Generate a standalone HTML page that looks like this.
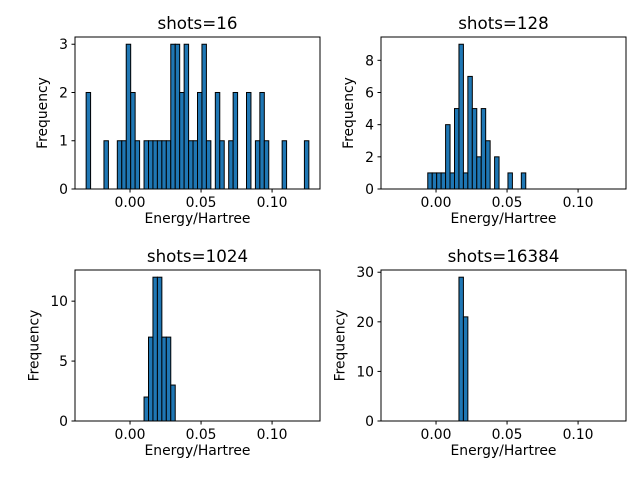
<!DOCTYPE html>
<html><head><meta charset="utf-8"><style>
body{margin:0;background:#fff;}
svg text{font-family:"DejaVu Sans","Liberation Sans",sans-serif;fill:#000;}
</style></head><body>
<svg id="fig" width="640" height="480" xmlns="http://www.w3.org/2000/svg"></svg>
<script>
const binCount = 50;
const dataMin = -0.0309, dataMax = 0.1259;
const xTicks = [0.00, 0.05, 0.10];
const xTickLabels = ["0.00", "0.05", "0.10"];
const titles = ["shots=16", "shots=128", "shots=1024", "shots=16384"];
const counts16 = [2,0,0,0,1,0,0,1,1,3,2,1,0,1,1,1,1,1,1,3,3,2,3,1,1,2,3,1,0,2,1,0,1,2,0,0,2,0,1,2,1,0,0,0,1,0,0,0,0,1];
const counts128 = [0,0,0,0,0,0,0,0,1,1,1,1,4,1,5,9,1,7,5,2,5,3,0,2,0,0,1,0,0,1,0,0,0,0,0,0,0,0,0,0,0,0,0,0,0,0,0,0,0,0];
const counts1024 = [0,0,0,0,0,0,0,0,0,0,0,0,0,2,7,12,12,7,7,3,0,0,0,0,0,0,0,0,0,0,0,0,0,0,0,0,0,0,0,0,0,0,0,0,0,0,0,0,0,0];
const counts16384 = [0,0,0,0,0,0,0,0,0,0,0,0,0,0,0,29,21,0,0,0,0,0,0,0,0,0,0,0,0,0,0,0,0,0,0,0,0,0,0,0,0,0,0,0,0,0,0,0,0,0];
const yTicks16 = [0,1,2,3];
const yTicks128 = [0,2,4,6,8];
const yTicks1024 = [0,5,10];
const yTicks16384 = [0,10,20,30];

const NS="http://www.w3.org/2000/svg";
const svg=document.getElementById('fig');
function mk(tag,attrs,parent){const e=document.createElementNS(NS,tag);for(const k in attrs)e.setAttribute(k,attrs[k]);(parent||svg).appendChild(e);return e;}

const panels=[
 {x:75,y:37,w:245,h:152,c:counts16,t:yTicks16,title:titles[0],name:'shots-16'},
 {x:381,y:37,w:245,h:152,c:counts128,t:yTicks128,title:titles[1],name:'shots-128'},
 {x:75,y:270,w:245,h:151,c:counts1024,t:yTicks1024,title:titles[2],name:'shots-1024'},
 {x:381,y:270,w:245,h:151,c:counts16384,t:yTicks16384,title:titles[3],name:'shots-16384'}
];
const span=dataMax-dataMin;
const xlo=dataMin-0.05*span, xhi=dataMax+0.05*span;
const bw=span/binCount;
panels.forEach(p=>{
  const g=mk('g',{});
  
  
  const ymax=Math.max(...p.c)*1.05;
  const X=v=>p.x+(v-xlo)/(xhi-xlo)*p.w;
  const Y=v=>p.y+p.h-v/ymax*p.h;
  p.c.forEach((c,i)=>{
    const x0=X(dataMin+i*bw), x1=X(dataMin+(i+1)*bw);
    const r=mk('rect',{x:x0,y:Y(c),width:x1-x0,height:Math.max(Y(0)-Y(c),0),fill:'#1f77b4',stroke:'#000','stroke-width':1},g);
    
    
  });
  const fr=mk('rect',{x:p.x,y:p.y,width:p.w,height:p.h,fill:'none',stroke:'#000','stroke-width':1},g);
  
  
  xTicks.forEach((v,i)=>{
    const x=X(v);
    mk('line',{x1:x,x2:x,y1:p.y+p.h,y2:p.y+p.h+3.5,stroke:'#000'},g);
    const t=mk('text',{x:x,y:p.y+p.h+18,'font-size':13.9,'text-anchor':'middle'},g);
    t.textContent=xTickLabels[i];
    
    
  });
  p.t.forEach(v=>{
    const y=Y(v);
    mk('line',{x1:p.x-3.5,x2:p.x,y1:y,y2:y,stroke:'#000'},g);
    const t=mk('text',{x:p.x-7,y:y+5,'font-size':13.9,'text-anchor':'end'},g);
    t.textContent=String(v);
    
    
  });
  const tt=mk('text',{x:p.x+p.w/2,y:p.y-8,'font-size':16.7,'text-anchor':'middle'},g);
  tt.textContent=p.title;
  
  
  const xl=mk('text',{x:p.x+p.w/2,y:p.y+p.h+34,'font-size':13.9,'text-anchor':'middle'},g);
  xl.textContent='Energy/Hartree';
  
  
  const maxLbl=Math.max(...p.t.map(v=>String(v).length));
  const lx=p.x-10-maxLbl*8.85-9;
  const yl=mk('text',{x:lx,y:p.y+p.h/2,'font-size':13.9,'text-anchor':'middle',transform:`rotate(-90 ${lx} ${p.y+p.h/2})`},g);
  yl.textContent='Frequency';
  
  
});
</script>
</body></html>
